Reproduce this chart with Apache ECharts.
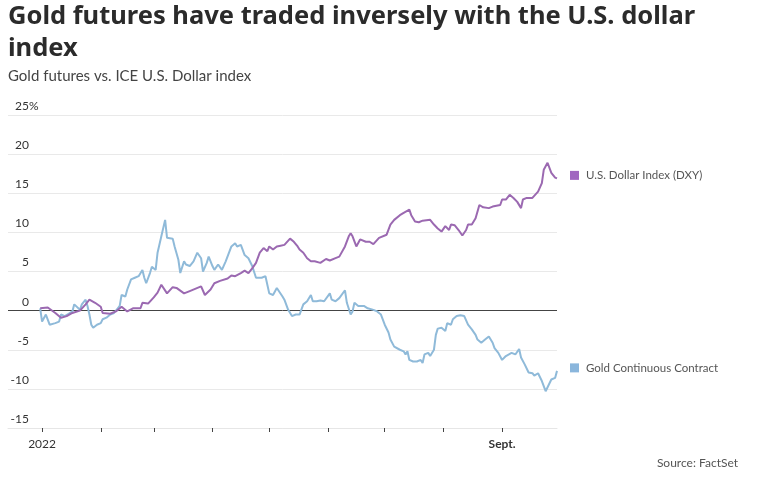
<!DOCTYPE html>
<html>
<head>
<meta charset="utf-8">
<script src="https://cdn.jsdelivr.net/npm/echarts@6/dist/echarts.min.js"></script>
<style>
html,body{margin:0;padding:0;background:#fff;}
#chart{width:760px;height:477px;}
</style>
</head>
<body>
<div id="chart"></div>
<script>
// ---- Data (percent change since start of 2022) ----
const dxyDates = ['2021-12-31','2022-01-04','2022-01-05','2022-01-08','2022-01-11','2022-01-14','2022-01-17','2022-01-21','2022-01-24','2022-01-26','2022-01-29',
'2022-02-01','2022-02-02','2022-02-06','2022-02-09','2022-02-12','2022-02-15','2022-02-18','2022-02-22','2022-02-23','2022-02-26',
'2022-03-01','2022-03-03','2022-03-05','2022-03-08','2022-03-11','2022-03-13','2022-03-17','2022-03-20','2022-03-26','2022-03-28','2022-03-31',
'2022-04-02','2022-04-05','2022-04-09','2022-04-11','2022-04-13','2022-04-16','2022-04-18','2022-04-20','2022-04-22','2022-04-24','2022-04-26','2022-04-28','2022-04-30',
'2022-05-01','2022-05-03','2022-05-05','2022-05-07','2022-05-09','2022-05-12','2022-05-14','2022-05-16','2022-05-17','2022-05-19','2022-05-21','2022-05-23','2022-05-25','2022-05-28','2022-05-29','2022-05-31',
'2022-06-02','2022-06-05','2022-06-07','2022-06-10','2022-06-12','2022-06-13','2022-06-14','2022-06-16','2022-06-18','2022-06-21','2022-06-23','2022-06-25','2022-06-28','2022-06-29',
'2022-07-02','2022-07-04','2022-07-06','2022-07-07','2022-07-09','2022-07-11','2022-07-14','2022-07-15','2022-07-17','2022-07-19','2022-07-21','2022-07-22','2022-07-25','2022-07-27','2022-07-29','2022-07-31',
'2022-08-02','2022-08-04','2022-08-05','2022-08-07','2022-08-09','2022-08-11','2022-08-13','2022-08-14','2022-08-16','2022-08-18','2022-08-20','2022-08-22','2022-08-25','2022-08-27','2022-08-29','2022-08-31',
'2022-09-01','2022-09-03','2022-09-05','2022-09-07','2022-09-09','2022-09-11','2022-09-12','2022-09-14','2022-09-17','2022-09-18','2022-09-20','2022-09-22','2022-09-23','2022-09-25','2022-09-26','2022-09-27','2022-09-29','2022-09-30'];
const dxyValues = [0.3,0.4,0.4,-0.3,-0.9,-0.7,-0.3,0.0,0.8,1.4,1.0,
0.5,-0.3,-0.4,-0.1,0.5,-0.1,0.3,0.3,1.0,0.9,
1.7,2.3,3.3,2.2,3.0,2.9,2.2,2.5,3.1,2.0,2.7,
3.5,3.8,4.1,4.5,4.4,4.8,5.1,4.8,5.4,6.1,7.4,8.0,7.6,
8.2,7.8,8.2,8.3,8.4,9.2,8.8,8.2,7.8,7.4,6.7,6.3,6.3,6.1,6.1,6.6,
6.4,6.7,6.9,8.2,9.5,9.9,9.5,8.2,9.1,8.8,8.8,8.5,9.3,9.2,
9.7,11.0,11.6,11.5,12.2,12.5,12.9,12.2,11.4,11.3,11.5,11.4,11.6,11.0,10.5,10.1,
10.8,10.3,11.0,10.9,10.3,9.6,10.3,11.0,11.0,11.8,13.5,13.2,13.1,13.3,13.4,13.5,
14.2,14.2,14.8,14.4,13.9,13.1,14.2,14.4,14.4,14.6,15.2,16.3,18.0,18.9,18.8,17.6,17.0,16.9];

const goldDates = ['2021-12-31','2022-01-01','2022-01-03','2022-01-04','2022-01-05','2022-01-06','2022-01-08','2022-01-10','2022-01-11','2022-01-13','2022-01-15','2022-01-17','2022-01-18','2022-01-19','2022-01-21','2022-01-22','2022-01-24','2022-01-25','2022-01-26','2022-01-27','2022-01-28','2022-01-30',
'2022-02-01','2022-02-02','2022-02-04','2022-02-06','2022-02-08','2022-02-10','2022-02-11','2022-02-12','2022-02-14','2022-02-15','2022-02-17','2022-02-19','2022-02-21','2022-02-23','2022-02-24','2022-02-25','2022-02-27','2022-02-28',
'2022-03-02','2022-03-03','2022-03-05','2022-03-07','2022-03-08','2022-03-09','2022-03-11','2022-03-12','2022-03-14','2022-03-15','2022-03-17','2022-03-18','2022-03-20','2022-03-22','2022-03-24','2022-03-26','2022-03-27','2022-03-29','2022-03-30',
'2022-04-01','2022-04-02','2022-04-04','2022-04-06','2022-04-08','2022-04-09','2022-04-11','2022-04-13','2022-04-14','2022-04-16','2022-04-17','2022-04-18','2022-04-20','2022-04-22','2022-04-24','2022-04-25','2022-04-27','2022-04-29','2022-05-01',
'2022-05-03','2022-05-05','2022-05-08','2022-05-09','2022-05-11','2022-05-13','2022-05-15','2022-05-16','2022-05-17','2022-05-19','2022-05-21','2022-05-23','2022-05-24','2022-05-26','2022-05-28','2022-05-30','2022-05-31',
'2022-06-02','2022-06-03','2022-06-05','2022-06-07','2022-06-08','2022-06-10','2022-06-11','2022-06-13','2022-06-14','2022-06-15','2022-06-17','2022-06-20','2022-06-22','2022-06-25','2022-06-27','2022-06-29',
'2022-07-01','2022-07-03','2022-07-04','2022-07-06','2022-07-07','2022-07-09','2022-07-11','2022-07-12','2022-07-13','2022-07-14','2022-07-16','2022-07-18','2022-07-20','2022-07-21','2022-07-22','2022-07-24','2022-07-25','2022-07-27','2022-07-28','2022-07-29','2022-07-31',
'2022-08-02','2022-08-03','2022-08-05','2022-08-06','2022-08-08','2022-08-10','2022-08-12','2022-08-14','2022-08-16','2022-08-18','2022-08-19','2022-08-21','2022-08-23','2022-08-25','2022-08-27','2022-08-28','2022-08-30',
'2022-09-01','2022-09-03','2022-09-04','2022-09-06','2022-09-08','2022-09-10','2022-09-11','2022-09-13','2022-09-15','2022-09-17','2022-09-18','2022-09-20','2022-09-22','2022-09-24','2022-09-25','2022-09-27','2022-09-29','2022-09-30'];
const goldValues = [0.3,-1.4,-0.5,-0.5,-1.8,-2.0,-1.6,-1.4,-0.5,-0.7,-0.4,-0.1,0.8,0.6,0.1,0.8,1.4,0.6,-0.5,-1.8,-2.2,-1.8,
-1.6,-1.1,-0.9,-0.5,-0.3,0.3,0.6,2.0,1.8,2.7,4.0,4.2,4.4,5.2,4.2,3.5,4.8,5.6,
5.2,7.4,9.5,11.6,9.3,9.3,9.2,8.2,6.5,4.8,6.3,5.9,5.7,6.3,7.4,6.7,5.0,6.1,6.9,
5.7,5.2,5.9,5.2,6.3,6.5,8.2,8.6,8.2,8.4,8.6,7.1,6.7,5.7,4.2,4.0,4.2,4.4,2.2,
2.0,2.9,1.8,1.4,0.1,-0.7,-0.5,-0.3,-0.5,0.8,1.2,2.0,1.2,1.2,1.3,1.2,1.4,
2.2,1.4,1.2,1.6,1.8,2.6,1.0,-0.5,-0.1,1.0,0.6,0.6,0.3,0.1,-0.1,-0.5,
-1.8,-2.8,-3.7,-4.6,-4.8,-5.0,-5.2,-5.6,-5.2,-6.3,-6.5,-6.5,-6.3,-6.7,-5.6,-5.4,-5.8,-5.0,-3.1,-2.3,-2.2,
-2.6,-1.6,-1.8,-1.1,-0.7,-0.6,-0.7,-1.8,-2.4,-3.1,-3.7,-4.1,-3.7,-3.3,-4.1,-4.8,-5.4,
-6.3,-5.8,-6.0,-5.4,-5.6,-4.9,-6.0,-6.9,-7.9,-8.0,-8.3,-8.0,-9.0,-10.3,-10.5,-8.8,-8.6,-7.7];

const tickDates = ['2022-01-01','2022-02-01','2022-03-01','2022-04-01','2022-05-01','2022-06-01','2022-07-01','2022-08-01','2022-09-01'];
const labelDates = ['2022-01-01','2022-09-01'];
const labelTexts = ['2022','Sept.'];
const seriesNames = ['U.S. Dollar Index (DXY)','Gold Continuous Contract'];

// ---- Build ----
const ts = s => { const p = s.split('-').map(Number); return Date.UTC(p[0], p[1]-1, p[2]); };
const pair = (d, v) => d.map((x, i) => [ts(x), v[i]]);
const labelMap = {}; labelDates.forEach((d,i)=>{ labelMap[ts(d)] = labelTexts[i]; });

const PURPLE = '#9b69b1', BLUE = '#8fbad9';
const FONT = 'Lato, "Noto Sans", sans-serif';

function endLabel(color){
  return {
    show: true, distance: 13, offset: [0, -3],
    formatter: '{sq|}{t|{a}}',
    rich: {
      sq: {width: 9, height: 9, backgroundColor: color},
      t: {fontFamily: FONT, fontSize: 11.5, color: '#555', padding: [0,0,0,7]}
    }
  };
}

const chart = echarts.init(document.getElementById('chart'), null, {renderer: 'canvas'});
chart.setOption({
  animation: false,
  backgroundColor: '#fff',
  title: [
    {text: 'Gold futures have traded inversely with the U.S. dollar index', left: 8, top: 1, padding: 0,
     textStyle: {fontFamily: '"Noto Sans", Lato, sans-serif', fontWeight: 'bold', fontSize: 25.5, color: '#2b2b2b', lineHeight: 32, width: 725, overflow: 'break'}},
    {text: 'Gold futures vs. ICE U.S. Dollar index', left: 8, top: 69, padding: 0,
     textStyle: {fontFamily: FONT, fontWeight: 'normal', fontSize: 15, color: '#444'}},
    {text: 'Source: FactSet', right: 22, top: 457, padding: 0,
     textStyle: {fontFamily: FONT, fontWeight: 'normal', fontSize: 12, color: '#555'}}
  ],
  grid: {left: 8, right: 203, top: 115, bottom: 49, containLabel: false},
  xAxis: {
    type: 'value',
    min: ts('2021-12-14'), max: ts('2022-09-30'),
    axisLine: {show: true, onZero: false, lineStyle: {color: '#e6e6e6', width: 1}},
    axisTick: {show: true, inside: false, length: 4, lineStyle: {color: '#444', width: 1}, customValues: tickDates.map(ts)},
    splitLine: {show: false},
    axisLabel: {
      customValues: labelDates.map(ts), margin: 10,
      fontFamily: FONT, fontSize: 12, color: '#333',
      formatter: v => labelMap[v] === 'Sept.' ? '{b|Sept.}' : (labelMap[v] || ''),
      rich: {b: {fontFamily: FONT, fontSize: 12, fontWeight: 'bold', color: '#333'}}
    }
  },
  yAxis: {
    type: 'value', min: -15, max: 25, interval: 5,
    axisLine: {show: false}, axisTick: {show: false},
    splitLine: {show: true, lineStyle: {color: '#e9e9e9', width: 1}},
    axisLabel: {
      inside: true, align: 'right', margin: 32, verticalAlign: 'bottom', padding: [0,0,3,0],
      fontFamily: FONT, fontSize: 12, color: '#333',
      formatter: v => '{n|' + v + '}{p|' + (v === 25 ? '%' : '\u00a0') + '}',
      rich: {
        n: {align: 'left', fontFamily: FONT, fontSize: 12, color: '#333'},
        p: {align: 'left', width: 11, fontFamily: FONT, fontSize: 12, color: '#333'}
      }
    }
  },
  series: [
    {
      name: seriesNames[0], type: 'line', data: pair(dxyDates, dxyValues),
      showSymbol: false, symbol: 'none', smooth: false,
      lineStyle: {color: PURPLE, width: 2}, itemStyle: {color: PURPLE},
      endLabel: endLabel('#a066c0'),
      z: 3
    },
    {
      name: seriesNames[1], type: 'line', data: pair(goldDates, goldValues),
      showSymbol: false, symbol: 'none', smooth: false,
      lineStyle: {color: BLUE, width: 2}, itemStyle: {color: BLUE},
      endLabel: endLabel('#8ab6dc'),
      markLine: {silent: true, symbol: 'none', label: {show: false},
        lineStyle: {color: '#444', width: 1, type: 'solid'}, data: [{yAxis: 0}], z: 1},
      z: 2
    }
  ]
});
</script>
</body>
</html>
